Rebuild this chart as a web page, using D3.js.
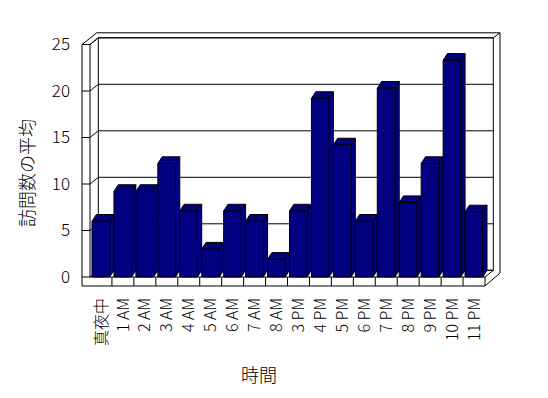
<!DOCTYPE html>
<html>
<head>
<meta charset="utf-8">
<script src="https://cdn.jsdelivr.net/npm/d3@7"></script>
<style>
  body { margin: 0; background: #fff; }
  text { font-family: "Noto Sans CJK JP", "Noto Sans", sans-serif; font-weight: 300; fill: #000; }
</style>
</head>
<body>
<div id="chart"></div>
<script>
const hours = ["真夜中", "1 AM", "2 AM", "3 AM", "4 AM", "5 AM", "6 AM", "7 AM", "8 AM",
               "3 PM", "4 PM", "5 PM", "6 PM", "7 PM", "8 PM", "9 PM", "10 PM", "11 PM"]
const visits = [6.0, 9.2, 9.2, 12.2, 7.1, 3.0, 7.1, 6.0, 1.9,
                7.1, 19.2, 14.2, 6.0, 20.3, 8.0, 12.2, 23.3, 7.0]
const yTicks = [0, 5, 10, 15, 20, 25]
const yTitle = "訪問数の平均"
const xTitle = "時間"

const width = 548
const height = 398
// depth offsets of the 3d box and of each bar
const wallDx = 8.3, wallDy = -6.7
const barDx = 4.3, barDy = -6.7

const svg = d3.select("#chart")
  .append("svg")
    .attr("width", width)
    .attr("height", height)

const xScale = d3.scaleBand()
  .domain(hours)
  .range([90, 485])

const yScale = d3.scaleLinear()
  .domain([0, 25])
  .range([277, 44.5])

const line = (x1, y1, x2, y2) => svg.append("line")
  .attr("x1", x1).attr("y1", y1).attr("x2", x2).attr("y2", y2)
  .attr("stroke", "#000").attr("stroke-width", 1)

const leftX = xScale.range()[0]
const rightX = xScale.range()[1]
const backL = leftX + wallDx
const backR = rightX + wallDx
const topY = yScale(25)

// back wall
svg.append("rect")
  .attr("x", backL).attr("y", topY + wallDy)
  .attr("width", backR - backL).attr("height", yScale(0) - topY)
  .attr("fill", "#fff").attr("stroke", "#000")
line(backL - 1.6, topY + wallDy - 5, backR + 6.7, topY + wallDy - 5)
line(backR + 6.7, topY + wallDy - 5, backR + 6.7, yScale(0) - 4)
line(backR, topY + wallDy, backR + 6.7, topY + wallDy - 5)

// gridlines on back wall + ticks on left wall
yTicks.forEach(v => {
  const y = yScale(v)
  line(backL, y + wallDy, backR, y + wallDy)
  line(82, y, leftX, y)
  line(leftX, y, backL, y + wallDy)
})

// left wall
line(82, topY, 82, 286)
line(leftX, topY, leftX, yScale(0))
line(82, topY, backL - 1.6, topY + wallDy - 5)
line(leftX, topY, backL, topY + wallDy)

// floor
line(82, 286, rightX, 286)
line(leftX, yScale(0), rightX, yScale(0))
line(rightX, yScale(0), rightX, 286)
line(rightX, 286, backR + 6.7, yScale(0) - 4)
line(rightX, yScale(0), backR, yScale(0) + wallDy)
hours.slice(1).forEach(h => line(xScale(h), yScale(0), xScale(h), 286))

// bars
const bw = xScale.bandwidth()
hours.forEach((h, i) => {
  const x0 = xScale(h) + 2
  const x1 = xScale(h) + bw - 2.3
  const y0 = yScale(0)
  const y1 = yScale(visits[i])
  const g = svg.append("g")
    .attr("fill", "#000080")
    .attr("stroke", "#000")
    .attr("stroke-width", 1)
    .attr("stroke-linejoin", "round")
  g.append("path")
    .attr("d", `M${x1},${y0}L${x1 + barDx},${y0 + barDy}L${x1 + barDx},${y1 + barDy}L${x1},${y1}Z`)
  g.append("path")
    .attr("d", `M${x0},${y1}L${x0 + barDx},${y1 + barDy}L${x1 + barDx},${y1 + barDy}L${x1},${y1}Z`)
  g.append("rect")
    .attr("x", x0).attr("y", y1)
    .attr("width", x1 - x0).attr("height", y0 - y1)
})

// y tick labels
svg.append("g")
  .selectAll("text")
  .data(yTicks)
  .join("text")
    .attr("x", 70)
    .attr("y", d => yScale(d))
    .attr("dy", "0.35em")
    .attr("text-anchor", "end")
    .style("font-size", "17px")
    .text(d => d)

// x tick labels (rotated)
svg.append("g")
  .selectAll("text")
  .data(hours)
  .join("text")
    .attr("transform", d => `translate(${xScale(d) + bw / 2},298) rotate(-90)`)
    .attr("dy", "0.35em")
    .attr("text-anchor", "end")
    .style("font-size", "16px")
    .text(d => d)

// axis titles
svg.append("text")
  .attr("transform", "translate(28,173) rotate(-90)")
  .attr("dy", "0.35em")
  .attr("text-anchor", "middle")
  .style("font-size", "18px")
  .text(yTitle)

svg.append("text")
  .attr("x", 259)
  .attr("y", 376)
  .attr("dy", "0.35em")
  .attr("text-anchor", "middle")
  .style("font-size", "18px")
  .text(xTitle)
</script>
</body>
</html>
